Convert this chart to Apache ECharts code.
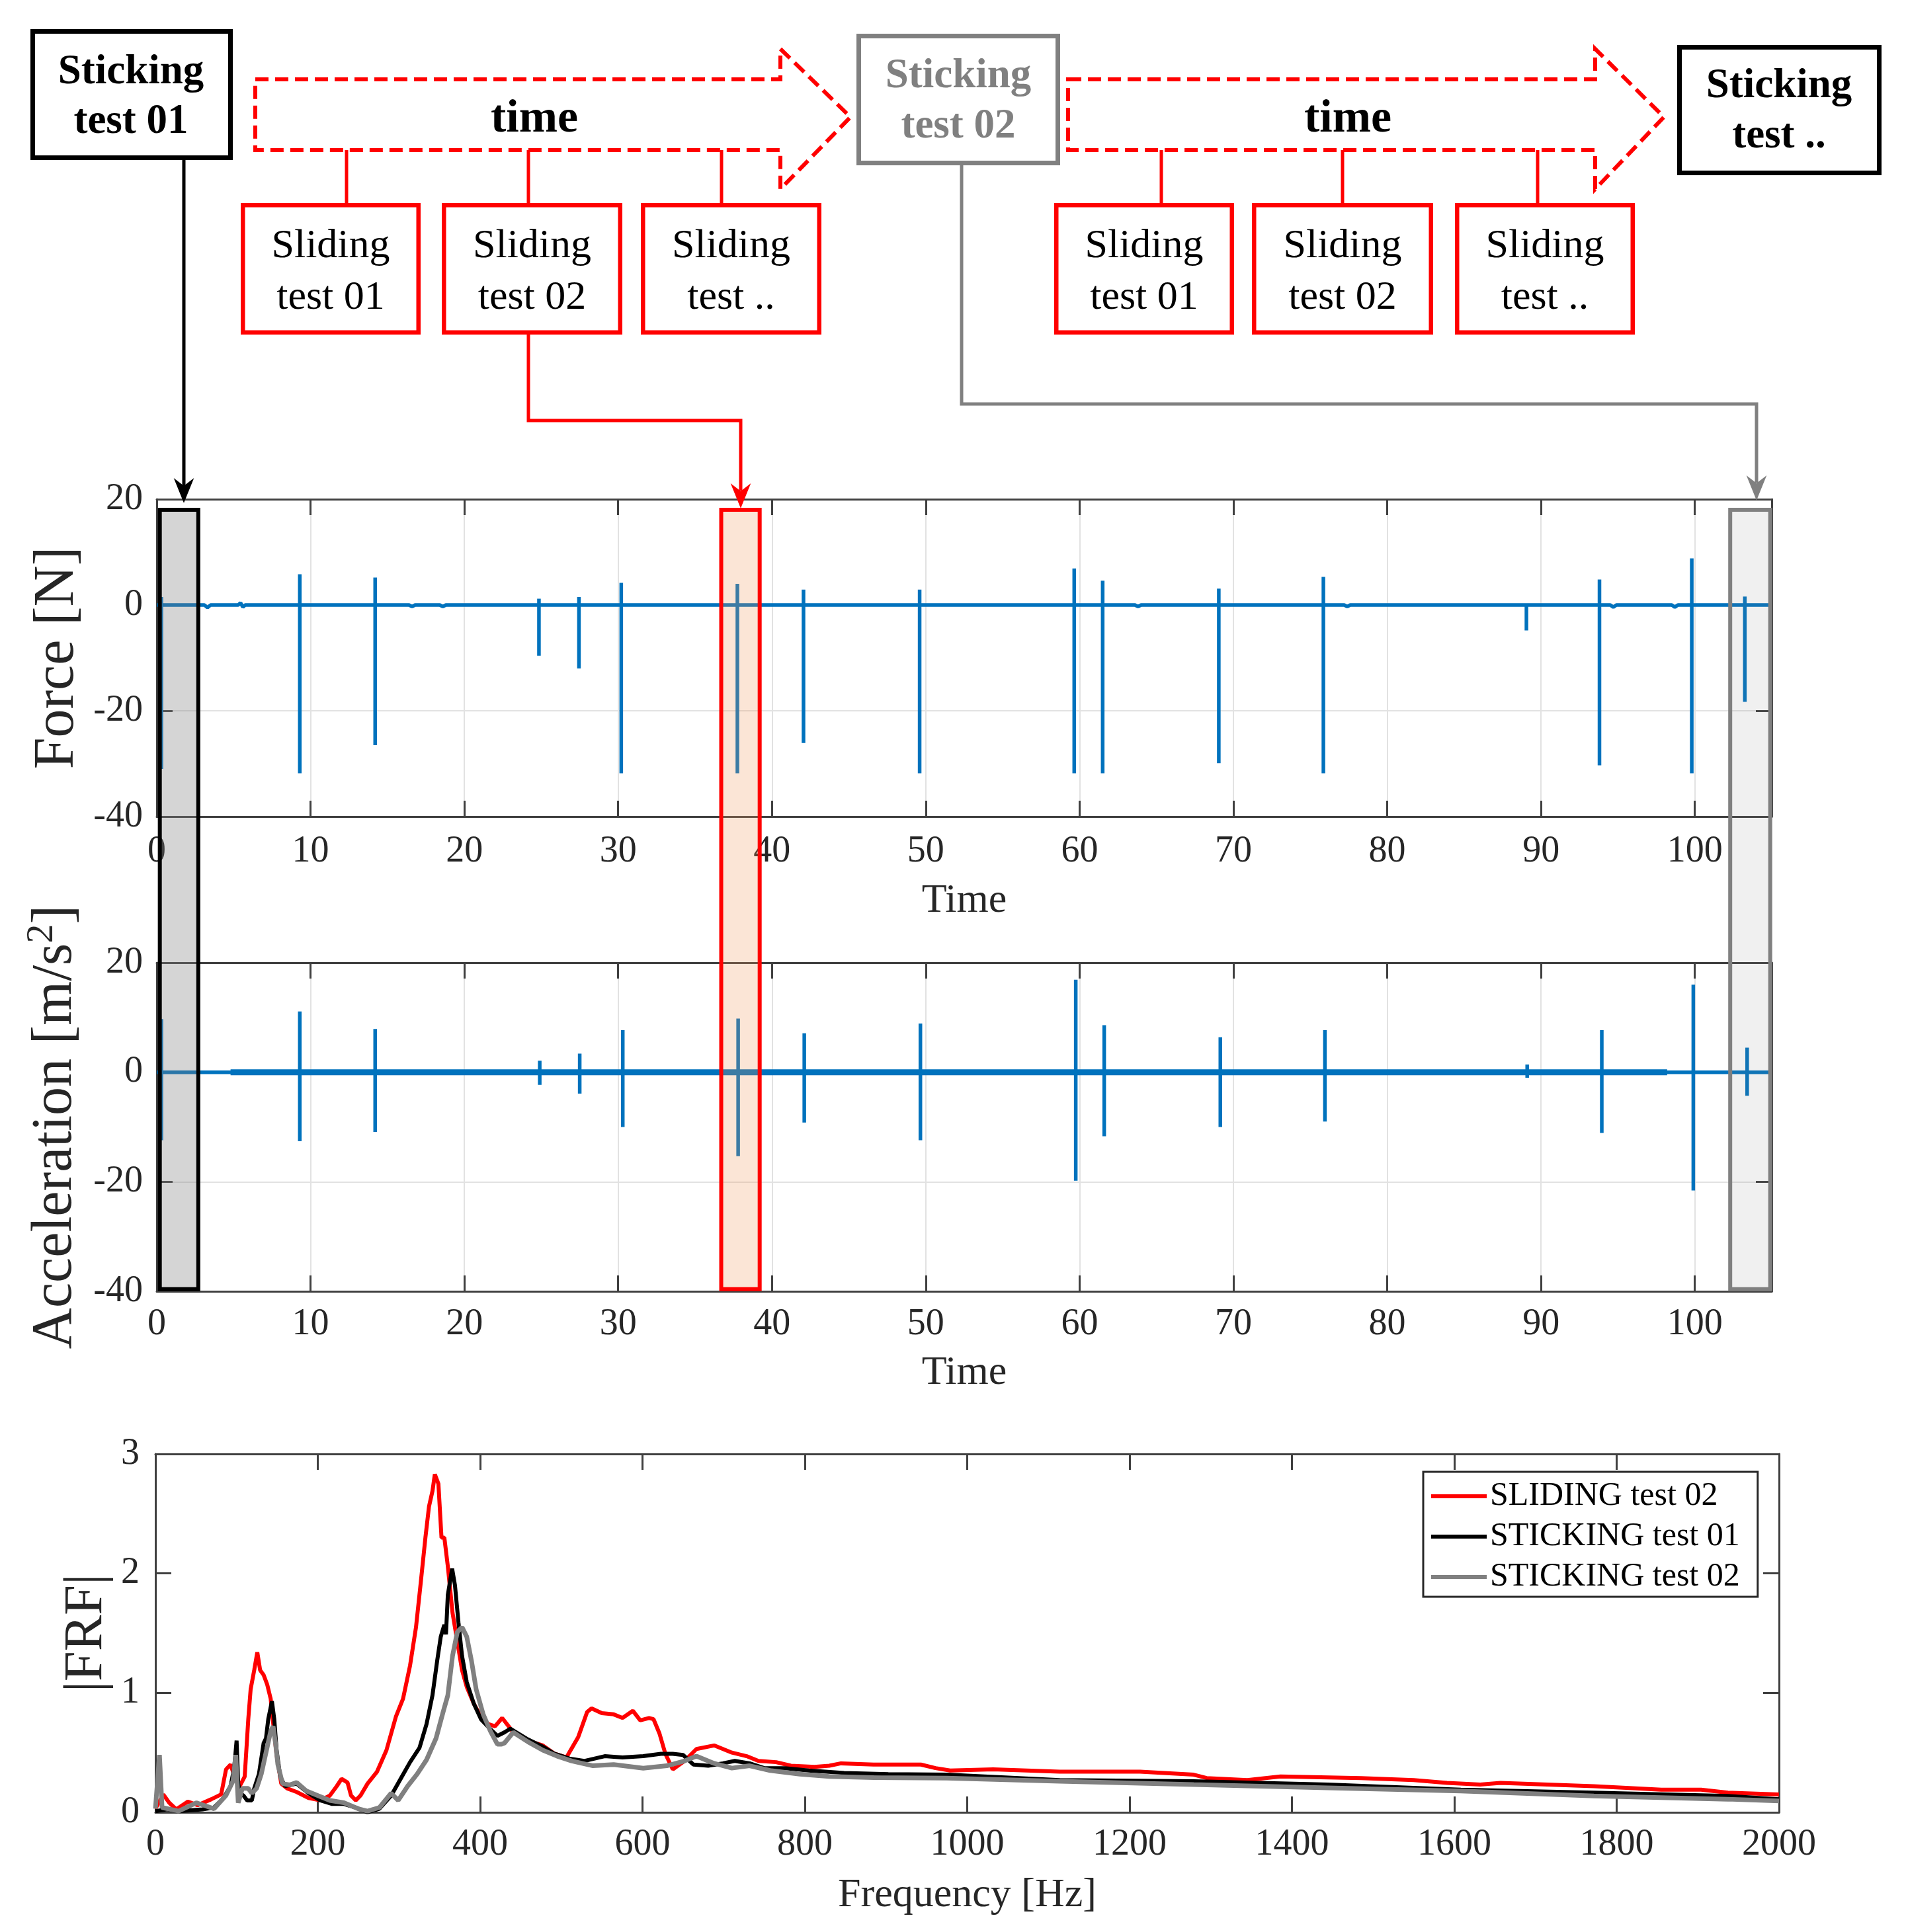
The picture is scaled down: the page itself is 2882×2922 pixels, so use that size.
<!DOCTYPE html>
<html>
<head>
<meta charset="utf-8">
<script src="https://cdn.jsdelivr.net/npm/echarts@6.0.0/dist/echarts.min.js"></script>
<style>
  html, body { margin: 0; padding: 0; background: #fff; }
  #chart { width: 2882px; height: 2922px; }
</style>
</head>
<body>
<div id="chart"></div>
<script>
// ---- time signals ----
var forceBaseT = [0, 3.1, 3.3, 3.5, 5.3, 5.45, 5.6, 5.75, 16.4, 16.6, 16.8, 18.4, 18.6, 18.8, 63.6, 63.8, 64.0, 77.2, 77.4, 77.6, 94.5, 94.7, 94.9, 98.5, 98.7, 98.9, 105];
var forceBaseV = [0, 0, -0.5, 0, 0, 0.4, -0.4, 0, 0, -0.3, 0, 0, -0.3, 0, 0, -0.3, 0, 0, -0.3, 0, 0, -0.4, 0, 0, -0.4, 0, 0];
var forceSpikeT = [0.3, 9.3, 14.2, 24.85, 27.45, 30.2, 37.75, 42.05, 49.6, 59.65, 61.5, 69.05, 75.85, 89.05, 93.8, 99.8, 103.25];
var forceSpikeMax = [1.5, 5.8, 5.2, 1.2, 1.5, 4.2, 4.0, 2.9, 2.9, 6.9, 4.6, 3.1, 5.3, 0.3, 4.8, 8.8, 1.6];
var forceSpikeMin = [-31, -31.8, -26.5, -9.6, -12.0, -31.8, -31.8, -26.1, -31.8, -31.8, -31.8, -29.9, -31.8, -4.8, -30.3, -31.8, -18.3];

var accelBaseT = [0, 105];
var accelBaseV = [0, 0];
var accelSpikeT = [0.3, 9.3, 14.2, 24.9, 27.5, 30.3, 37.8, 42.1, 49.65, 59.75, 61.6, 69.15, 75.95, 89.1, 93.95, 99.9, 103.4];
var accelSpikeMax = [9.7, 11.1, 7.9, 2.1, 3.4, 7.7, 9.8, 7.1, 8.9, 16.9, 8.6, 6.4, 7.7, 1.4, 7.7, 16.0, 4.5];
var accelSpikeMin = [-12.4, -12.6, -10.9, -2.3, -3.9, -10.0, -15.3, -9.2, -12.4, -19.8, -11.7, -10.0, -9.0, -1.0, -11.1, -21.6, -4.3];
// span where the acceleration trace carries visible noise
var accelNoiseT = [4.8, 98.2];

// highlighted windows: sticking 01, sliding 02, sticking 02
var windowStart = [0.2, 36.7, 102.3];
var windowEnd = [2.7, 39.2, 104.9];

// ---- FRF curves ----
var frfNames = ['SLIDING test 02', 'STICKING test 01', 'STICKING test 02'];
var slidingF = [0, 9.7, 17, 25.7, 40, 52, 69, 81, 87, 92.6, 98.4, 104, 110, 114.4, 117.3, 121.7, 125.5, 129, 133.3, 137.7, 142, 145, 149.3, 155, 162.4, 174, 188.6, 203, 214.8, 223.5, 229.3, 236.6, 241, 246.8, 252.6, 261.3, 273, 284.6, 296.2, 305, 313.7, 321, 326.8, 332.6, 337, 341.3, 344.2, 348.6, 352.4, 355.9, 360.2, 366, 371.9, 377.7, 383.5, 392.2, 401, 409.7, 418.4, 427.1, 440.8, 458.9, 477.2, 491.7, 506.3, 520.8, 531.8, 537.2, 549.9, 564.5, 575.4, 588.1, 597.2, 608.1, 613.6, 620.9, 628.2, 637.3, 651.8, 666.4, 688.2, 710.1, 728.3, 742.8, 764.6, 782.8, 811.9, 830.1, 844.6, 884.6, 942.8, 961, 979, 1032, 1114, 1213, 1279, 1295, 1345, 1386, 1485, 1550, 1591, 1632, 1657, 1772, 1855, 1904, 1937, 2000];
var slidingV = [0.03, 0.15, 0.08, 0.025, 0.09, 0.06, 0.11, 0.15, 0.36, 0.40, 0.28, 0.22, 0.30, 0.78, 1.03, 1.19, 1.34, 1.19, 1.15, 1.07, 0.95, 0.75, 0.48, 0.24, 0.20, 0.17, 0.12, 0.10, 0.14, 0.22, 0.28, 0.25, 0.14, 0.10, 0.14, 0.24, 0.34, 0.52, 0.80, 0.95, 1.23, 1.55, 1.92, 2.30, 2.56, 2.69, 2.83, 2.75, 2.30, 2.30, 2.06, 1.67, 1.43, 1.19, 1.05, 0.91, 0.80, 0.74, 0.72, 0.79, 0.67, 0.60, 0.56, 0.49, 0.46, 0.63, 0.84, 0.87, 0.83, 0.82, 0.79, 0.85, 0.77, 0.79, 0.78, 0.66, 0.49, 0.36, 0.43, 0.53, 0.56, 0.50, 0.47, 0.43, 0.42, 0.39, 0.38, 0.39, 0.41, 0.40, 0.40, 0.37, 0.35, 0.36, 0.34, 0.34, 0.315, 0.287, 0.27, 0.30, 0.287, 0.27, 0.246, 0.232, 0.246, 0.219, 0.19, 0.19, 0.165, 0.15];

var stick1F = [0, 14, 29, 58, 72, 84, 92.6, 97, 100, 102, 104.2, 108.6, 113, 118.8, 121.7, 127.5, 133.3, 136.2, 139, 143.5, 146.4, 149.3, 153.7, 159.5, 174, 188.6, 203, 217.7, 232.2, 246.8, 261.3, 275.9, 290.4, 302, 313.7, 325.3, 334, 341.3, 347.1, 351.5, 355.9, 357.9, 360.2, 365.5, 369, 373.3, 377.7, 383.5, 392.2, 401, 412, 421.3, 430, 437.2, 458.9, 477.2, 491.7, 509.9, 528.1, 553.5, 575.4, 600.9, 622.7, 637.3, 650, 662.7, 680.9, 699.1, 713.7, 731.9, 750, 775.5, 804.6, 848.3, 902.8, 975, 1114, 1279, 1444, 1608, 1772, 1937, 2000];
var stick1V = [0.01, 0.025, 0.01, 0.025, 0.04, 0.12, 0.22, 0.37, 0.60, 0.24, 0.16, 0.14, 0.10, 0.10, 0.20, 0.32, 0.58, 0.62, 0.78, 0.93, 0.78, 0.52, 0.30, 0.22, 0.24, 0.16, 0.10, 0.07, 0.07, 0.04, 0.00, 0.03, 0.14, 0.28, 0.42, 0.54, 0.74, 0.98, 1.27, 1.47, 1.57, 1.49, 1.82, 2.04, 1.90, 1.59, 1.31, 1.09, 0.91, 0.78, 0.70, 0.64, 0.67, 0.70, 0.61, 0.55, 0.49, 0.45, 0.43, 0.47, 0.46, 0.47, 0.49, 0.49, 0.48, 0.40, 0.39, 0.41, 0.43, 0.41, 0.37, 0.37, 0.35, 0.33, 0.32, 0.315, 0.27, 0.26, 0.232, 0.19, 0.165, 0.137, 0.11];

var stick2F = [0, 5, 8.2, 28.6, 50.4, 72.2, 86.8, 95.5, 99, 102, 107.1, 114.4, 118.8, 124.6, 130.4, 136.2, 142, 145, 147.9, 150.8, 156.6, 165.3, 174, 185.7, 200.2, 214.8, 232.2, 249.7, 261.3, 275.9, 290.4, 299.1, 310.8, 322.4, 334, 345.7, 354.4, 360.2, 366, 371.9, 377.7, 383.5, 389.3, 395.1, 403.8, 412.6, 421.3, 426.3, 430, 440.8, 458.9, 477.2, 495, 513, 539, 564.5, 600.9, 630, 651.8, 666.4, 688.2, 710.1, 731.9, 757.3, 793.7, 830.1, 884.6, 975, 1114, 1279, 1444, 1608, 1772, 1937, 2000];
var stick2V = [0.03, 0.48, 0.04, 0.01, 0.08, 0.03, 0.14, 0.26, 0.48, 0.08, 0.20, 0.20, 0.16, 0.20, 0.32, 0.50, 0.68, 0.72, 0.58, 0.40, 0.24, 0.23, 0.25, 0.18, 0.14, 0.10, 0.08, 0.03, 0.01, 0.04, 0.16, 0.10, 0.22, 0.32, 0.44, 0.62, 0.84, 0.98, 1.31, 1.51, 1.55, 1.47, 1.27, 1.03, 0.82, 0.68, 0.57, 0.57, 0.58, 0.67, 0.59, 0.52, 0.47, 0.43, 0.39, 0.40, 0.37, 0.39, 0.43, 0.47, 0.41, 0.37, 0.39, 0.35, 0.32, 0.30, 0.29, 0.287, 0.26, 0.232, 0.205, 0.178, 0.137, 0.11, 0.096];

var SERIF = 'Liberation Serif';
var BLUE = '#0072BD';
var AXIS = '#404040';
var TXT = '#262626';
var RED = '#ff0000';
var GRAY = '#808080';

function pairs(xs, ys) {
  return xs.map(function (x, i) { return [x, ys[i]]; });
}

// baseline points and spikes merged in time order; a spike is drawn 0 -> max -> min -> 0
function buildTrace(baseT, baseV, spikeT, spikeMax, spikeMin) {
  var groups = [];
  baseT.forEach(function (t, i) { groups.push({ t: t, pts: [[t, baseV[i]]] }); });
  spikeT.forEach(function (t, i) {
    groups.push({ t: t, pts: [[t, 0], [t, spikeMax[i]], [t, spikeMin[i]], [t, 0]] });
  });
  groups.sort(function (a, b) { return a.t - b.t; });
  var out = [];
  groups.forEach(function (g) { out = out.concat(g.pts); });
  return out;
}

var labelStyle = { fontFamily: SERIF, fontSize: 56, color: TXT };
var nameStyle = { fontFamily: SERIF, fontSize: 62, color: TXT };

function xAxisFor(gridIndex, top, min, max, interval, opts) {
  return {
    type: 'value', gridIndex: gridIndex, position: top ? 'top' : 'bottom',
    min: min, max: max, interval: interval,
    axisLine: { show: true, onZero: false, lineStyle: { color: AXIS, width: 3 } },
    axisTick: { show: true, inside: true, length: 24, lineStyle: { color: AXIS, width: 3 } },
    axisLabel: top ? { show: false } : Object.assign({
      margin: opts.margin, showMaxLabel: max % interval === 0,
      formatter: function (v) { return v % interval === 0 ? String(v) : ''; }
    }, labelStyle),
    splitLine: { show: !top && opts.split, lineStyle: { color: '#e2e2e2', width: 2 } },
    name: top ? '' : opts.name, nameLocation: 'middle', nameGap: opts.nameGap,
    nameTextStyle: nameStyle
  };
}

function yAxisFor(gridIndex, right, min, max, interval, opts) {
  return {
    type: 'value', gridIndex: gridIndex, position: right ? 'right' : 'left',
    min: min, max: max, interval: interval,
    axisLine: { show: true, onZero: false, lineStyle: { color: AXIS, width: 3 } },
    axisTick: { show: true, inside: true, length: 24, lineStyle: { color: AXIS, width: 3 } },
    axisLabel: right ? { show: false } : Object.assign({ margin: opts.margin }, labelStyle),
    splitLine: { show: !right && opts.split, lineStyle: { color: '#e2e2e2', width: 2 } },
    name: right ? '' : opts.name, nameLocation: 'middle', nameGap: opts.nameGap,
    nameTextStyle: opts.nameTextStyle
  };
}

// ---- diagram on top (annotation) ----
function boxEl(x0, y0, x1, y1, color, lw) {
  return {
    type: 'rect', z: 10,
    shape: { x: x0 + lw / 2, y: y0 + lw / 2, width: x1 - x0 - lw, height: y1 - y0 - lw },
    style: { fill: '#fff', stroke: color, lineWidth: lw }
  };
}
function textEl(str, x, baseline, size, bold, color) {
  return {
    type: 'text', z: 11, x: x, y: baseline - size * 0.28,
    style: {
      text: str, fontFamily: SERIF, fontSize: size, fontWeight: bold ? 'bold' : 'normal',
      fill: color, align: 'center', verticalAlign: 'middle',
      textAlign: 'center', textVerticalAlign: 'middle'
    }
  };
}
function lineEl(points, color, lw) {
  return { type: 'polyline', z: 10, shape: { points: points }, style: { stroke: color, lineWidth: lw, fill: null } };
}
function headEl(x, tipY, color) {
  return {
    type: 'polygon', z: 12,
    shape: { points: [[x, tipY], [x - 13, tipY - 32], [x, tipY - 22], [x + 13, tipY - 32]] },
    style: { fill: color, stroke: color, lineWidth: 2 }
  };
}
function timeArrow(x0, x1, tipX) {
  return {
    type: 'polygon', z: 10,
    shape: { points: [[x0, 120], [x1, 120], [x1, 74], [tipX, 177], [x1, 286], [x1, 227], [x0, 227]] },
    style: { fill: null, stroke: RED, lineWidth: 6, lineDash: [20, 10] }
  };
}

var diagram = [];
diagram.push(timeArrow(386, 1180, 1286));
diagram.push(timeArrow(1615, 2412, 2516));
diagram.push(textEl('time', 808, 201, 70, true, '#000'));
diagram.push(textEl('time', 2038, 201, 70, true, '#000'));

[524, 799, 1091, 1756, 2030, 2325].forEach(function (x) {
  diagram.push(lineEl([[x, 227], [x, 309]], RED, 5));
});

// connectors from the boxes down to the highlighted windows
diagram.push(lineEl([[278, 242], [278, 735]], '#000', 5));
diagram.push(headEl(278, 758, '#000'));
diagram.push(lineEl([[799, 506], [799, 636], [1120, 636], [1120, 742]], RED, 5));
diagram.push(headEl(1120, 766, RED));
diagram.push(lineEl([[1454, 250], [1454, 611], [2656, 611], [2656, 730]], GRAY, 5));
diagram.push(headEl(2656, 754, GRAY));

diagram.push(boxEl(46, 44, 352, 242, '#000', 7));
diagram.push(textEl('Sticking', 198, 127, 63, true, '#000'));
diagram.push(textEl('test 01', 198, 202, 63, true, '#000'));

diagram.push(boxEl(1295, 51, 1603, 250, GRAY, 7));
diagram.push(textEl('Sticking', 1449, 133, 63, true, GRAY));
diagram.push(textEl('test 02', 1449, 209, 63, true, GRAY));

diagram.push(boxEl(2536, 68, 2845, 265, '#000', 7));
diagram.push(textEl('Sticking', 2690, 148, 63, true, '#000'));
diagram.push(textEl('test ..', 2690, 224, 63, true, '#000'));

var slideBoxes = [[364, 636, '01'], [668, 941, '02'], [969, 1242, '..'], [1594, 1866, '01'], [1893, 2167, '02'], [2200, 2472, '..']];
slideBoxes.forEach(function (b) {
  var cx = (b[0] + b[1]) / 2;
  diagram.push(boxEl(b[0], 307, b[1], 506, RED, 6.5));
  diagram.push(textEl('Sliding', cx, 390, 62, false, '#000'));
  diagram.push(textEl('test ' + b[2], cx, 468, 62, false, '#000'));
});

var chart = echarts.init(document.getElementById('chart'), null, { renderer: 'canvas' });

var option = {
  backgroundColor: '#fff',
  animation: false,
  textStyle: { fontFamily: SERIF },
  grid: [
    { left: 237, top: 755, width: 2442, height: 480 },
    { left: 237, top: 1456, width: 2442, height: 497 },
    { left: 235, top: 2199, width: 2455, height: 542 }
  ],
  xAxis: [
    xAxisFor(0, false, 0, 105, 10, { margin: 25, name: 'Time', nameGap: 97, split: true }),
    xAxisFor(0, true, 0, 105, 10, {}),
    xAxisFor(1, false, 0, 105, 10, { margin: 22, name: 'Time', nameGap: 93, split: true }),
    xAxisFor(1, true, 0, 105, 10, {}),
    xAxisFor(2, false, 0, 2000, 200, { margin: 21, name: 'Frequency [Hz]', nameGap: 95, split: false }),
    xAxisFor(2, true, 0, 2000, 200, {})
  ],
  yAxis: [
    yAxisFor(0, false, -40, 20, 20, {
      margin: 21, name: 'Force [N]', nameGap: 104, split: true,
      nameTextStyle: { fontFamily: SERIF, fontSize: 86, color: TXT }
    }),
    yAxisFor(0, true, -40, 20, 20, {}),
    yAxisFor(1, false, -40, 20, 20, {
      margin: 21, name: 'Acceleration [m/s{sup|2}]', nameGap: 104, split: true,
      nameTextStyle: {
        fontFamily: SERIF, fontSize: 86, color: TXT,
        rich: { sup: { fontFamily: SERIF, fontSize: 58, color: TXT, verticalAlign: 'top', padding: [0, 0, 40, 0] } }
      }
    }),
    yAxisFor(1, true, -40, 20, 20, {}),
    yAxisFor(2, false, 0, 3, 1, {
      margin: 24, name: '|FRF|', nameGap: 58, split: false,
      nameTextStyle: { fontFamily: SERIF, fontSize: 82, color: TXT }
    }),
    yAxisFor(2, true, 0, 3, 1, {})
  ],
  legend: {
    data: frfNames,
    orient: 'vertical', left: 2152, top: 2226,
    padding: [12, 27, 5, 12], itemGap: 11,
    itemWidth: 84, itemHeight: 6, icon: 'rect',
    backgroundColor: '#fff', borderColor: '#262626', borderWidth: 3, borderRadius: 0,
    textStyle: { fontFamily: SERIF, fontSize: 50, color: '#000', lineHeight: 50 }
  },
  series: [
    {
      name: 'Force', type: 'line', xAxisIndex: 0, yAxisIndex: 0, showSymbol: false, z: 3,
      data: buildTrace(forceBaseT, forceBaseV, forceSpikeT, forceSpikeMax, forceSpikeMin),
      lineStyle: { color: BLUE, width: 5.5 }, itemStyle: { color: BLUE }
    },
    {
      name: 'Acceleration', type: 'line', xAxisIndex: 2, yAxisIndex: 2, showSymbol: false, z: 3,
      data: buildTrace(accelBaseT, accelBaseV, accelSpikeT, accelSpikeMax, accelSpikeMin),
      lineStyle: { color: BLUE, width: 5.5 }, itemStyle: { color: BLUE }
    },
    {
      name: 'Acceleration noise', type: 'line', xAxisIndex: 2, yAxisIndex: 2, showSymbol: false, z: 3,
      data: pairs(accelNoiseT, [0, 0]),
      lineStyle: { color: BLUE, width: 9 }, itemStyle: { color: BLUE }
    },
    {
      name: frfNames[0], type: 'line', xAxisIndex: 4, yAxisIndex: 4, showSymbol: false, z: 3,
      data: pairs(slidingF, slidingV), lineStyle: { color: RED, width: 6 }, itemStyle: { color: RED }
    },
    {
      name: frfNames[1], type: 'line', xAxisIndex: 4, yAxisIndex: 4, showSymbol: false, z: 4,
      data: pairs(stick1F, stick1V), lineStyle: { color: '#000', width: 6 }, itemStyle: { color: '#000' }
    },
    {
      name: frfNames[2], type: 'line', xAxisIndex: 4, yAxisIndex: 4, showSymbol: false, z: 5,
      data: pairs(stick2F, stick2V), lineStyle: { color: GRAY, width: 7 }, itemStyle: { color: GRAY }
    }
  ],
  graphic: { elements: diagram }
};

chart.setOption(option);

// highlighted windows spanning both time plots, placed through the axes
var windowFill = ['rgba(128,128,128,0.33)', 'rgba(240,150,90,0.25)', 'rgba(128,128,128,0.12)'];
var windowStroke = ['#000', RED, GRAY];
var elements = diagram.slice();
windowStart.forEach(function (t0, i) {
  var p0 = chart.convertToPixel({ seriesIndex: 0 }, [t0, 18.0]);
  var p1 = chart.convertToPixel({ seriesIndex: 1 }, [windowEnd[i], -39.6]);
  elements.push({
    type: 'rect', z: 20,
    shape: { x: p0[0], y: p0[1], width: p1[0] - p0[0], height: p1[1] - p0[1] },
    style: { fill: windowFill[i], stroke: windowStroke[i], lineWidth: 6 }
  });
});
chart.setOption({ graphic: { elements: elements } });

window.addEventListener('resize', function () {
  chart.resize();
});
</script>
</body>
</html>
